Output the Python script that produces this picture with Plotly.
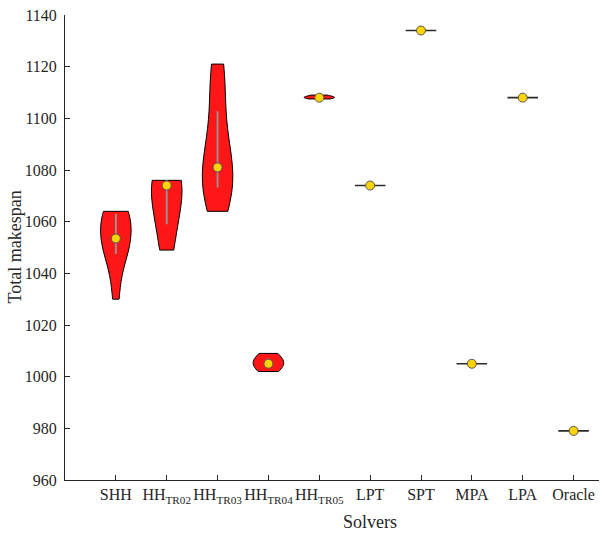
import numpy as np
import plotly.graph_objects as go

# ---- data ----
solvers = ["SHH", "HH<sub>TR02</sub>", "HH<sub>TR03</sub>", "HH<sub>TR04</sub>", "HH<sub>TR05</sub>",
           "LPT", "SPT", "MPA", "LPA", "Oracle"]
shh = [1030, 1040, 1046, 1049, 1052, 1053, 1054, 1058, 1062, 1064, 1064, 1064]
hh_tr02 = [1049, 1049, 1053, 1058, 1062, 1066, 1070, 1074, 1076, 1076, 1076, 1076, 1076, 1076, 1076]
hh_tr03 = [1064, 1066, 1068, 1071, 1074, 1077, 1079, 1081, 1081, 1086, 1090, 1095, 1101, 1108, 1114, 1121, 1121]
hh_tr04 = [1002, 1003, 1004, 1005, 1005, 1005, 1006, 1007, 1008, 1009]
hh_tr05 = [1107.5, 1108, 1108, 1108, 1108, 1108, 1108, 1108.5, 1109, 1109]
lpt = [1074, 1074, 1074]
spt = [1134, 1134, 1134]
mpa = [1005, 1005, 1005]
lpa = [1108, 1108, 1108]
oracle = [979, 979, 979]
series = [shh, hh_tr02, hh_tr03, hh_tr04, hh_tr05, lpt, spt, mpa, lpa, oracle]
bandwidths = [7.0, 11.0, 11.0, 3.0, 0.6, None, None, None, None, None]
y_ticks = list(range(960, 1141, 20))

FONT = "Liberation Serif"
AX = "#262626"

fig = go.Figure()
for i, (vals, bw) in enumerate(zip(series, bandwidths)):
    kw = {}
    if bw is not None:
        kw["bandwidth"] = bw
        edge = dict(color="#000000", width=1)
    else:
        edge = dict(color="#2a2a2a", width=1.6)
    fig.add_trace(go.Violin(
        x=[i + 1] * len(vals), y=vals,
        width=0.6, scalemode="width", spanmode="hard",
        fillcolor="rgb(255,22,22)", line=edge,
        points=False, meanline_visible=False,
        box=dict(visible=True, width=0.06, fillcolor="rgb(150,150,150)",
                 line=dict(color="rgb(150,150,150)", width=0)),
        opacity=1, showlegend=False, hoverinfo="y", **kw))

medians = [float(np.median(v)) for v in series]
fig.add_trace(go.Scatter(
    x=list(range(1, len(series) + 1)), y=medians, mode="markers",
    marker=dict(size=9, color="rgb(255,212,0)", line=dict(color="#555555", width=1)),
    showlegend=False))

fig.update_layout(
    width=602, height=536,
    margin=dict(l=65, r=3, t=15, b=56, autoexpand=False),
    paper_bgcolor="white", plot_bgcolor="white",
    font=dict(family=FONT, size=16, color=AX),
    xaxis=dict(range=[0, 10.5], tickmode="array", tickvals=list(range(1, 11)), ticktext=solvers,
               tickangle=0, automargin=False,
               ticks="inside", ticklen=5, tickcolor=AX, showline=True, linecolor=AX, linewidth=1,
               showgrid=False, zeroline=False, tickfont=dict(family=FONT, size=16, color=AX)),
    yaxis=dict(range=[960, 1140], tickmode="array", tickvals=y_ticks, automargin=False,
               ticks="inside", ticklen=5, tickcolor=AX, showline=True, linecolor=AX, linewidth=1,
               showgrid=False, zeroline=False, tickfont=dict(family=FONT, size=16, color=AX),
               ticklabelstandoff=4),
    annotations=[
        dict(text="Total makespan", xref="paper", yref="paper", x=-0.0955, y=0.5,
             xanchor="center", yanchor="middle", textangle=-90, showarrow=False,
             font=dict(family=FONT, size=18, color=AX)),
        dict(text="Solvers", xref="x", yref="paper", x=6, y=-0.09,
             xanchor="center", yanchor="middle", showarrow=False,
             font=dict(family=FONT, size=18, color=AX)),
    ],
)

fig.write_html("out.html", config={"displayModeBar": False},
               post_script="document.body.style.margin='0';")
